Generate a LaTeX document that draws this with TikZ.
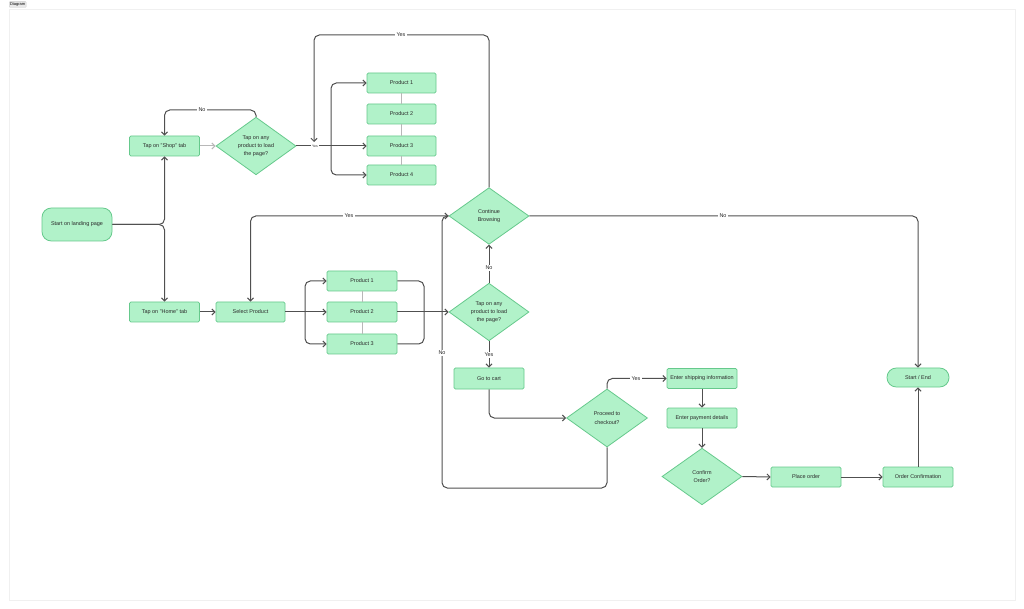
\documentclass[tikz,border=0pt]{standalone}
\usepackage{fontspec}
\setmainfont{Liberation Sans}
\usetikzlibrary{shapes.geometric,arrows.meta}
\definecolor{boxfill}{HTML}{B1F2C9}
\definecolor{boxline}{HTML}{66C98C}
\definecolor{txt}{HTML}{2B2B2B}
\definecolor{conn}{HTML}{505050}
\definecolor{connlight}{HTML}{B8B8B8}
\tikzset{
  base/.style={fill=boxfill,draw=boxline,line width=0.6pt,text=txt,font=\fontsize{4.1}{6.2}\selectfont,align=center,inner sep=0pt},
  box/.style={base,rectangle,rounded corners=1pt,minimum width=52.5pt,minimum height=15pt},
  term/.style={base,rectangle,rounded corners=7pt},
  dia/.style={base,diamond,minimum width=60pt,minimum height=42.5pt},
  arr/.style={draw=conn,line width=0.75pt,rounded corners=4pt,-{Straight Barb[length=2.3pt,width=4.6pt]}},
  ln/.style={draw=conn,line width=0.75pt,rounded corners=4pt},
  lightarr/.style={draw=connlight,line width=0.75pt,-{Straight Barb[length=2.3pt,width=4.6pt]}},
  lightln/.style={draw=connlight,line width=0.5pt},
  lbl/.style={fill=white,text=txt,font=\fontsize{4.1}{5}\selectfont,inner sep=1pt},
  tinylbl/.style={fill=white,text=txt,font=\fontsize{2.6}{3}\selectfont,inner sep=0.6pt},
}
\begin{document}
\begin{tikzpicture}[x=0.75pt,y=-0.75pt]
\useasboundingbox (0,0) rectangle (1024,609);
\fill[white] (0,0) rectangle (1024,609);
\draw[gray!12,line width=0.5pt] (9,9) rectangle (1015,600);
\node[fill=gray!18,draw=gray!40,line width=0.3pt,rounded corners=0.5pt,inner sep=0.7pt,font=\fontsize{3}{3.2}\selectfont,anchor=north west] (tab) at (9,1.5) {Diagram};

% nodes
\node[term,minimum width=52.5pt,minimum height=24.75pt] (start) at (77,224.5) {Start on landing page};
\node[box] (shop) at (164.5,146) {Tap on "Shop" tab};
\node[box] (home) at (164.5,312) {Tap on "Home" tab};
\node[dia] (d1) at (256,146) {Tap on any\\product to load\\the page?};
\node[box,minimum width=51.75pt] (tp1) at (401.5,83) {Product 1};
\node[box,minimum width=51.75pt] (tp2) at (401.5,114) {Product 2};
\node[box,minimum width=51.75pt] (tp3) at (401.5,146) {Product 3};
\node[box,minimum width=51.75pt] (tp4) at (401.5,175) {Product 4};
\node[dia] (cb) at (489,216) {Continue\\Browsing};
\node[box,minimum width=51.75pt] (sel) at (250.5,312) {Select Product};
\node[box] (mp1) at (362,281) {Product 1};
\node[box] (mp2) at (362,312) {Product 2};
\node[box] (mp3) at (362,344) {Product 3};
\node[dia] (d2) at (489,312) {Tap on any\\product to load\\the page?};
\node[box,minimum height=15.75pt] (cart) at (489,378.5) {Go to cart};
\node[dia,minimum width=60.75pt,minimum height=43.5pt] (proc) at (607,418) {Proceed to\\checkout?};
\node[box] (ship) at (702,378.5) {Enter shipping information};
\node[box] (pay) at (702,418) {Enter payment details};
\node[dia] (conf) at (702,476.5) {Confirm\\Order?};
\node[box] (place) at (806,477) {Place order};
\node[box] (oc) at (918,477) {Order Confirmation};
\node[term,minimum width=46.5pt,minimum height=14.25pt] (se) at (918,377.5) {Start / End};

% junction coordinates
\coordinate (j1) at (331,146);
\coordinate (cbyes) at (314,142);
\coordinate (j2) at (305,312);
\coordinate (j3) at (424,312);

% light links between products
\draw[lightln] (tp1.south) -- (tp2.north);
\draw[lightln] (tp2.south) -- (tp3.north);
\draw[lightln] (tp3.south) -- (tp4.north);
\draw[lightln] (mp1.south) -- (mp2.north);
\draw[lightln] (mp2.south) -- (mp3.north);

% connectors
\draw[arr] (start.east) -| (shop.south);
\draw[arr] (start.east) -| (home.north);
\draw[lightarr] (shop.east) -- (d1.west);
\draw[arr] (d1.north) -- (256,110) -| (shop.north);
\draw[ln] (d1.east) -- (j1);
\draw[arr] (j1) |- (tp1.west);
\draw[arr] (j1) -- (tp3.west);
\draw[arr] (j1) |- (tp4.west);
\draw[arr] (cb.north) -- (489,35) -- (314,35) -- (cbyes);
\draw[arr] (cb.west) -| (sel.north);
\draw[arr] (cb.east) -| (se.north);
\draw[arr] (home.east) -- (sel.west);
\draw[ln] (sel.east) -- (j2);
\draw[arr] (j2) |- (mp1.west);
\draw[arr] (j2) -- (mp2.west);
\draw[arr] (j2) |- (mp3.west);
\draw[ln] (mp1.east) -| (j3);
\draw[ln] (mp3.east) -| (j3);
\draw[arr] (mp2.east) -- (d2.west);
\draw[arr] (d2.north) -- (cb.south);
\draw[arr] (d2.south) -- (cart.north);
\draw[arr] (cart.south) |- (proc.west);
\draw[arr] (proc.south) |- (442,488) |- (cb.west);
\draw[arr] (proc.north) |- (ship.west);
\draw[arr] (ship.south) -- (pay.north);
\draw[arr] (pay.south) -- (conf.north);
\draw[arr] (conf.east) -- (place.west);
\draw[arr] (place.east) -- (oc.west);
\draw[arr] (oc.north) -- (se.south);

% labels
\node[lbl] (noA) at (202,110) {No};
\node[tinylbl] (yesA) at (315,146.5) {Yes};
\node[lbl] (yesB) at (401,35) {Yes};
\node[lbl] (yesC) at (349,216) {Yes};
\node[lbl] (noB) at (723,216) {No};
\node[lbl] (noC) at (489,268) {No};
\node[lbl] (yesD) at (489,355) {Yes};
\node[lbl] (noD) at (442,353) {No};
\node[lbl] (yesE) at (636,379) {Yes};
\end{tikzpicture}
\end{document}
